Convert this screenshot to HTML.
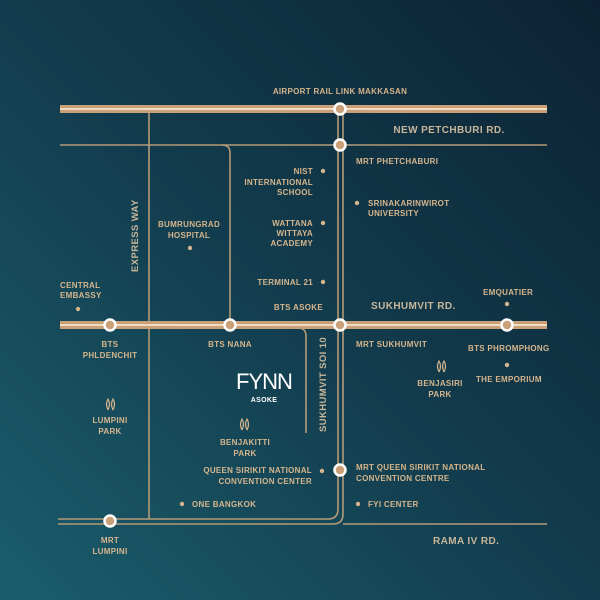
<!DOCTYPE html>
<html><head><style>
html,body{margin:0;padding:0;width:600px;height:600px;overflow:hidden}
svg{display:block}
text{font-family:"Liberation Sans",sans-serif;font-weight:bold;fill:#d6b58c;font-size:8px;letter-spacing:0.3px}
.r{font-size:10px;font-weight:bold;fill:#c7b69a;letter-spacing:0.4px}
</style></head><body>
<svg width="600" height="600" viewBox="0 0 600 600">
<defs>
<linearGradient id="bg" x1="1" y1="0" x2="0" y2="1">
<stop offset="0" stop-color="#0c2233"/>
<stop offset="0.5" stop-color="#123c4d"/>
<stop offset="1" stop-color="#1b5d6c"/>
</linearGradient>
</defs>
<rect width="600" height="600" fill="url(#bg)"/>
<g fill="none" stroke="#b39a78" stroke-width="1.6">
<line x1="60" y1="145" x2="547" y2="145"/>
<line x1="149" y1="109" x2="149" y2="519"/>
<path d="M58 519 H328 Q338 519 338 509 V109"/>
<path d="M343 109 V514 Q343 524 333 524 H58"/>
<line x1="343" y1="524" x2="547" y2="524"/>
<path d="M222 145 Q230 145 230 153 V325"/>
<path d="M298 328 Q306 328 306 336 V433"/>
</g>
<g>
<line x1="60" y1="109" x2="547" y2="109" stroke="#c9a078" stroke-width="8"/>
<line x1="60" y1="109" x2="547" y2="109" stroke="#f2dcc0" stroke-width="2"/>
<line x1="60" y1="325" x2="547" y2="325" stroke="#c9a078" stroke-width="8"/>
<line x1="60" y1="325" x2="547" y2="325" stroke="#f2dcc0" stroke-width="2"/>
</g>
<g fill="#c9a078" stroke="#fff" stroke-width="2.5">
<circle cx="340" cy="109" r="5.5"/>
<circle cx="340" cy="145" r="5.5"/>
<circle cx="110" cy="325" r="5.5"/>
<circle cx="230" cy="325" r="5.5"/>
<circle cx="340" cy="325" r="5.5"/>
<circle cx="507" cy="325" r="5.5"/>
<circle cx="340" cy="470" r="5.5"/>
<circle cx="110" cy="521" r="5.5"/>
</g>
<g fill="#d6b58c">
<circle cx="323" cy="171" r="2.2"/><circle cx="323" cy="223" r="2.2"/><circle cx="323" cy="282" r="2.2"/>
<circle cx="357" cy="203" r="2.2"/><circle cx="190" cy="248" r="2.2"/><circle cx="78" cy="309" r="2.2"/>
<circle cx="507" cy="304" r="2.2"/><circle cx="507" cy="365" r="2.2"/><circle cx="322" cy="471" r="2.2"/>
<circle cx="182" cy="504" r="2.2"/><circle cx="358" cy="504" r="2.2"/>
</g>
<g fill="none" stroke="#d6b58c" stroke-width="1.2">
<path d="M108 410 q-3 -6 0 -11 q3 5 0 11 M113 410 q-3 -6 0 -11 q3 5 0 11"/>
<path d="M242 430 q-3 -6 0 -11 q3 5 0 11 M247 430 q-3 -6 0 -11 q3 5 0 11"/>
<path d="M439 372 q-3 -6 0 -11 q3 5 0 11 M444 372 q-3 -6 0 -11 q3 5 0 11"/>
</g>
<text x="340" y="94" text-anchor="middle">AIRPORT RAIL LINK MAKKASAN</text>
<text x="449" y="133" text-anchor="middle" class="r">NEW PETCHBURI RD.</text>
<text x="356" y="164">MRT PHETCHABURI</text>
<text x="313" y="174" text-anchor="end">NIST</text>
<text x="313" y="185" text-anchor="end">INTERNATIONAL</text>
<text x="313" y="195" text-anchor="end">SCHOOL</text>
<text x="368" y="206">SRINAKARINWIROT</text>
<text x="368" y="216">UNIVERSITY</text>
<text x="313" y="226" text-anchor="end">WATTANA</text>
<text x="313" y="236" text-anchor="end">WITTAYA</text>
<text x="313" y="246" text-anchor="end">ACADEMY</text>
<text x="189" y="227" text-anchor="middle">BUMRUNGRAD</text>
<text x="189" y="238" text-anchor="middle">HOSPITAL</text>
<text x="313" y="285" text-anchor="end">TERMINAL 21</text>
<text x="323" y="310" text-anchor="end">BTS ASOKE</text>
<text x="60" y="288">CENTRAL</text>
<text x="60" y="298">EMBASSY</text>
<text transform="translate(138,272) rotate(-90)" class="r" style="font-size:9.5px">EXPRESS WAY</text>
<text x="371" y="309" class="r">SUKHUMVIT RD.</text>
<text x="483" y="295">EMQUATIER</text>
<text x="110" y="347" text-anchor="middle">BTS</text>
<text x="110" y="358" text-anchor="middle">PHLDENCHIT</text>
<text x="230" y="347" text-anchor="middle">BTS NANA</text>
<text x="356" y="347">MRT SUKHUMVIT</text>
<text x="468" y="351">BTS PHROMPHONG</text>
<text x="440" y="386" text-anchor="middle">BENJASIRI</text>
<text x="440" y="397" text-anchor="middle">PARK</text>
<text x="476" y="382">THE EMPORIUM</text>
<text x="264" y="389" text-anchor="middle" style="font-family:'Liberation Sans',sans-serif;font-weight:normal;font-size:22px;fill:#fff;letter-spacing:-1px">FYNN</text>
<text x="264" y="402" text-anchor="middle" style="fill:#fff;font-size:7px">ASOKE</text>
<text transform="translate(326,432) rotate(-90)" class="r" style="font-size:9.5px">SUKHUMVIT SOI 10</text>
<text x="110" y="423" text-anchor="middle">LUMPINI</text>
<text x="110" y="434" text-anchor="middle">PARK</text>
<text x="245" y="445" text-anchor="middle">BENJAKITTI</text>
<text x="245" y="456" text-anchor="middle">PARK</text>
<text x="312" y="473" text-anchor="end">QUEEN SIRIKIT NATIONAL</text>
<text x="312" y="484" text-anchor="end">CONVENTION CENTER</text>
<text x="356" y="470">MRT QUEEN SIRIKIT NATIONAL</text>
<text x="356" y="481">CONVENTION CENTRE</text>
<text x="192" y="507">ONE BANGKOK</text>
<text x="368" y="507">FYI CENTER</text>
<text x="110" y="543" text-anchor="middle">MRT</text>
<text x="110" y="554" text-anchor="middle">LUMPINI</text>
<text x="433" y="544" class="r">RAMA IV RD.</text>
</svg>
</body></html>
